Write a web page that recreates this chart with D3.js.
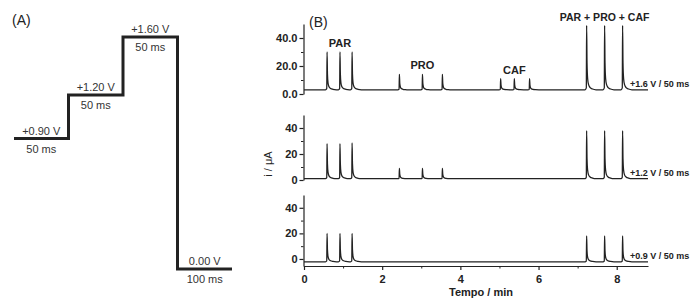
<!DOCTYPE html>
<html>
<head>
<meta charset="utf-8">
<script src="https://cdn.jsdelivr.net/npm/d3@7"></script>
<style>
  html, body { margin: 0; padding: 0; background: #fff; }
  svg { display: block; font-family: "Liberation Sans", Arial, sans-serif; }
</style>
</head>
<body>
<div id="chart"></div>
<script>
// --- panel A: potential waveform
const stepVoltages = [0.90, 1.20, 1.60, 0.00];
const stepDurations = ["50 ms", "50 ms", "50 ms", "100 ms"];

// --- panel B: amperograms (peak times in min, peak current in µA)
const peakTimes = [0.59, 0.92, 1.23, 2.44, 3.03, 3.54, 5.03, 5.38, 5.77, 7.23, 7.69, 8.15];
const peaks16 = [30, 30, 30, 14, 14, 14, 11, 11, 11, 49, 49, 49];
const peaks12 = [28, 28, 28.5, 9, 9, 9, null, null, null, 38, 38, 38];
const peaks09 = [20, 20, 20, null, null, null, null, null, null, 18, 18, 18];
const baselines = [3, 1, -2.2];
const traceLabels = ["+1.6 V / 50 ms", "+1.2 V / 50 ms", "+0.9 V / 50 ms"];
const groupLabels = ["PAR", "PRO", "CAF", "PAR + PRO + CAF"];
const xTicks = [0, 2, 4, 6, 8];
const xMinorTicks = [1, 3, 5, 7];

// shape of one FIA peak: [time offset (min), fraction of height]
const peakShape = [[-0.04, 0], [-0.008, 0.03], [0, 1], [0.01, 0.42], [0.025, 0.18], [0.05, 0.08], [0.09, 0.035], [0.15, 0.012], [0.24, 0]];

const W = 700, H = 301;
const ink = "#222";

const svg = d3.select("#chart").append("svg")
    .attr("width", W)
    .attr("height", H);

svg.append("rect").attr("width", W).attr("height", H).attr("fill", "#fff");

// ================= Panel A =================
const gA = svg.append("g");

gA.append("text")
    .attr("x", 12).attr("y", 25)
    .style("font-size", "14px")
    .style("fill", ink)
    .text("(A)");

const xA = d3.scaleLinear().domain([0, stepVoltages.length]).range([14, 232]);
const yA = d3.scaleLinear().domain([0, 1.6]).range([269, 37]);

// step path built from the voltage list
const stepPts = [];
stepVoltages.forEach((v, i) => {
    stepPts.push([i, v]);
    stepPts.push([i + 1, v]);
});

gA.append("path")
    .datum(stepPts)
    .attr("d", d3.line().x(d => xA(d[0])).y(d => yA(d[1])))
    .attr("fill", "none")
    .attr("stroke", ink)
    .attr("stroke-width", 3)
    .attr("stroke-linejoin", "miter");

const fmtV = v => (v > 0 ? "+" : "") + v.toFixed(2) + " V";

stepVoltages.forEach((v, i) => {
    const cx = xA(i + 0.5);
    gA.append("text")
        .attr("x", cx).attr("y", yA(v) - 4)
        .attr("text-anchor", "middle")
        .style("font-size", "11px")
        .style("fill", "#333")
        .text(fmtV(v));
    gA.append("text")
        .attr("x", cx).attr("y", yA(v) + 14)
        .attr("text-anchor", "middle")
        .style("font-size", "11px")
        .style("fill", "#333")
        .text(stepDurations[i]);
});

// ================= Panel B =================
const gB = svg.append("g");

const x = d3.scaleLinear().domain([0, 8.8]).range([304, 648]);

const panels = [
    { peaks: peaks16, base: baselines[0], y: d3.scaleLinear().domain([0, 50]).range([94, 24]), fmt: d3.format(".1f") },
    { peaks: peaks12, base: baselines[1], y: d3.scaleLinear().domain([0, 50]).range([180, 115]), fmt: d3.format("d") },
    { peaks: peaks09, base: baselines[2], y: d3.scaleLinear().domain([-5.5, 50]).range([266, 195]), fmt: d3.format("d") }
];

gB.append("text")
    .attr("x", 309).attr("y", 27)
    .style("font-size", "14px")
    .style("fill", ink)
    .text("(B)");

const line = d3.line()
    .x(d => x(d[0]))
    .y(d => d[1])
    .curve(d3.curveMonotoneX);

panels.forEach((p, k) => {
    const g = gB.append("g");

    // y axis: major ticks with labels, minor ticks in between
    const yAxis = d3.axisLeft(p.y)
        .tickValues([0, 20, 40])
        .tickFormat(p.fmt)
        .tickSize(4)
        .tickPadding(2)
        .tickSizeOuter(0);
    const ax = g.append("g")
        .attr("transform", "translate(303.5,0)")
        .call(yAxis);
    ax.select(".domain").attr("stroke", ink).attr("stroke-width", 1.2);
    ax.selectAll(".tick line").attr("stroke", ink).attr("stroke-width", 1.2);
    ax.selectAll(".tick text")
        .style("font-size", "11px")
        .style("font-weight", "bold")
        .style("font-family", "'Liberation Sans', Arial, sans-serif")
        .attr("fill", ink);

    const minor = g.append("g")
        .attr("transform", "translate(303.5,0)")
        .call(d3.axisLeft(p.y).tickValues([10, 30]).tickSize(2.5).tickFormat(""));
    minor.select(".domain").remove();
    minor.selectAll(".tick line").attr("stroke", ink).attr("stroke-width", 1);

    // trace built from the peak list
    const pts = [[0, p.y(p.base)]];
    peakTimes.forEach((t, i) => {
        const h = p.peaks[i];
        if (h == null) return;
        peakShape.forEach(s => {
            pts.push([t + s[0], p.y(p.base + s[1] * (h - p.base))]);
        });
    });
    pts.push([x.domain()[1], p.y(p.base)]);

    g.append("path")
        .datum(pts)
        .attr("d", line)
        .attr("fill", "none")
        .attr("stroke", ink)
        .attr("stroke-width", 1.3);

    g.append("text")
        .attr("x", 630).attr("y", p.y(p.base) - 3)
        .style("font-size", "9px")
        .style("font-weight", "bold")
        .style("fill", ink)
        .text(traceLabels[k]);
});

// compound labels over the top trace, centred on the middle peak of each group
const topPanel = panels[0];
groupLabels.forEach((lab, gi) => {
    const mid = gi * 3 + 1;
    gB.append("text")
        .attr("x", x(peakTimes[mid]))
        .attr("y", topPanel.y(topPanel.peaks[mid]) - (gi === 3 ? 4 : 5))
        .attr("text-anchor", "middle")
        .style("font-size", gi === 3 ? "10.5px" : "11px")
        .style("font-weight", "bold")
        .style("fill", ink)
        .text(lab);
});

// x axis under the bottom trace
const bottomY = 266;
const xAxisG = gB.append("g")
    .attr("transform", `translate(0,${bottomY})`)
    .call(d3.axisBottom(x).tickValues(xTicks).tickSize(4).tickPadding(5).tickSizeOuter(0));
xAxisG.select(".domain").attr("stroke", ink).attr("stroke-width", 1.2);
xAxisG.selectAll(".tick line").attr("stroke", ink).attr("stroke-width", 1.2);
xAxisG.selectAll(".tick text")
    .style("font-size", "11px")
    .style("font-weight", "bold")
    .style("font-family", "'Liberation Sans', Arial, sans-serif")
    .attr("fill", ink);

const xMinor = gB.append("g")
    .attr("transform", `translate(0,${bottomY})`)
    .call(d3.axisBottom(x).tickValues(xMinorTicks).tickSize(2.5).tickFormat(""));
xMinor.select(".domain").remove();
xMinor.selectAll(".tick line").attr("stroke", ink).attr("stroke-width", 1);

gB.append("text")
    .attr("x", 481).attr("y", 296)
    .attr("text-anchor", "middle")
    .style("font-size", "11px")
    .style("font-weight", "bold")
    .style("fill", ink)
    .text("Tempo / min");

gB.append("text")
    .attr("transform", "translate(272,164) rotate(-90)")
    .attr("text-anchor", "middle")
    .style("font-size", "11px")
    .style("fill", ink)
    .text("i / μA");
</script>
</body>
</html>
